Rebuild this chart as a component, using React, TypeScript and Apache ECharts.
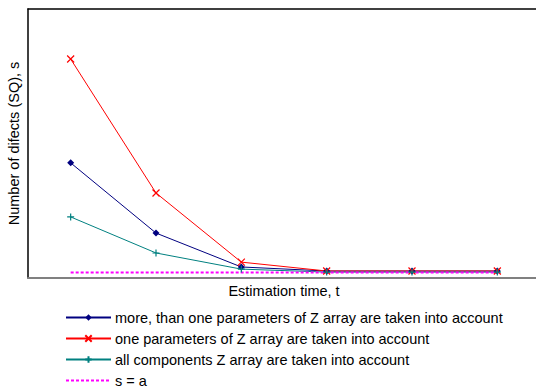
import React, { useEffect, useRef } from "react";
import * as echarts from "echarts";

const categories = ["1", "2", "3", "4", "5", "6"];
const moreThanOne = [42.8, 16.7, 4.1, 2.6, 2.6, 2.6];
const oneParam = [81.4, 31.6, 5.9, 2.6, 2.6, 2.6];
const allComponents = [22.7, 9.3, 3.3, 2.2, 2.2, 2.2];
const sEqualsA = [2.0, 2.0, 2.0, 2.0, 2.0, 2.0];

const seriesNames = [
  "more, than one parameters of Z array are taken into account",
  "one parameters of Z array are taken into account",
  "all components Z array are taken into account",
  "s = a",
];

const FONT = "'Liberation Sans', Arial, sans-serif";
const FS = 14.5;

export default function App() {
  const ref = useRef<HTMLDivElement>(null);
  useEffect(() => {
    if (!ref.current) return;
    const chart = echarts.init(ref.current, undefined, { renderer: "svg" });
    chart.setOption({
      animation: false,
      textStyle: { fontFamily: FONT, color: "#000" },
      grid: { left: 28, top: 9, width: 512, height: 269, containLabel: false, outerBoundsMode: "none" },
      xAxis: [
        {
          type: "category",
          data: categories,
          boundaryGap: true,
          position: "bottom",
          axisLine: { show: true, lineStyle: { color: "#808080", width: 2 } },
          axisTick: { show: false },
          axisLabel: { show: false },
          splitLine: { show: false },
          name: "Estimation time, t",
          nameLocation: "middle",
          nameGap: 5,
          nameTextStyle: { fontSize: FS, color: "#000", fontFamily: FONT },
        },
        {
          type: "category",
          data: categories,
          position: "top",
          axisLine: { show: true, lineStyle: { color: "#000", width: 1.5 } },
          axisTick: { show: false },
          axisLabel: { show: false },
        },
      ],
      yAxis: {
        type: "value",
        min: 0,
        max: 100,
        axisLine: { show: true, lineStyle: { color: "#000", width: 1.5 } },
        axisTick: { show: false },
        axisLabel: { show: false },
        splitLine: { show: false },
        name: "Number of difects (SQ), s",
        nameLocation: "middle",
        nameGap: 7,
        nameTextStyle: { fontSize: FS, color: "#000", fontFamily: FONT },
      },
      legend: {
        orient: "vertical",
        left: 65,
        top: 310,
        height: 100,
        padding: 0,
        itemWidth: 45,
        itemHeight: 8,
        itemGap: 6,
        textStyle: { fontSize: FS, color: "#000", fontFamily: FONT, padding: [0, 0, 0, -1] },
        data: [
          seriesNames[0],
          seriesNames[1],
          seriesNames[2],
          { name: seriesNames[3], itemStyle: { opacity: 0 } },
        ],
      },
      series: [
        {
          name: seriesNames[0],
          type: "line",
          data: moreThanOne,
          color: "#000080",
          lineStyle: { color: "#000080", width: 1 },
          symbol: "diamond",
          symbolSize: 7,
          itemStyle: { color: "#000080" },
        },
        {
          name: seriesNames[1],
          type: "line",
          data: oneParam,
          color: "#ff0000",
          lineStyle: { color: "#ff0000", width: 1 },
          symbol: "path://M0,0L10,10M10,0L0,10",
          symbolSize: 7,
          itemStyle: { color: "#ff0000", borderColor: "#ff0000", borderWidth: 1.2 },
        },
        {
          name: seriesNames[2],
          type: "line",
          data: allComponents,
          color: "#008080",
          lineStyle: { color: "#008080", width: 1 },
          symbol: "path://M5,0L5,10M0,5L10,5",
          symbolSize: 7,
          itemStyle: { color: "#008080", borderColor: "#008080", borderWidth: 1.2 },
        },
        {
          name: seriesNames[3],
          type: "line",
          data: sEqualsA,
          color: "#ff00ff",
          lineStyle: { color: "#ff00ff", width: 2, type: [3, 2] },
          symbol: "none",
        },
      ],
    });
    return () => chart.dispose();
  }, []);
  return <div ref={ref} style={{ width: 536, height: 389, position: "absolute", left: 0, top: 0 }} />;
}
